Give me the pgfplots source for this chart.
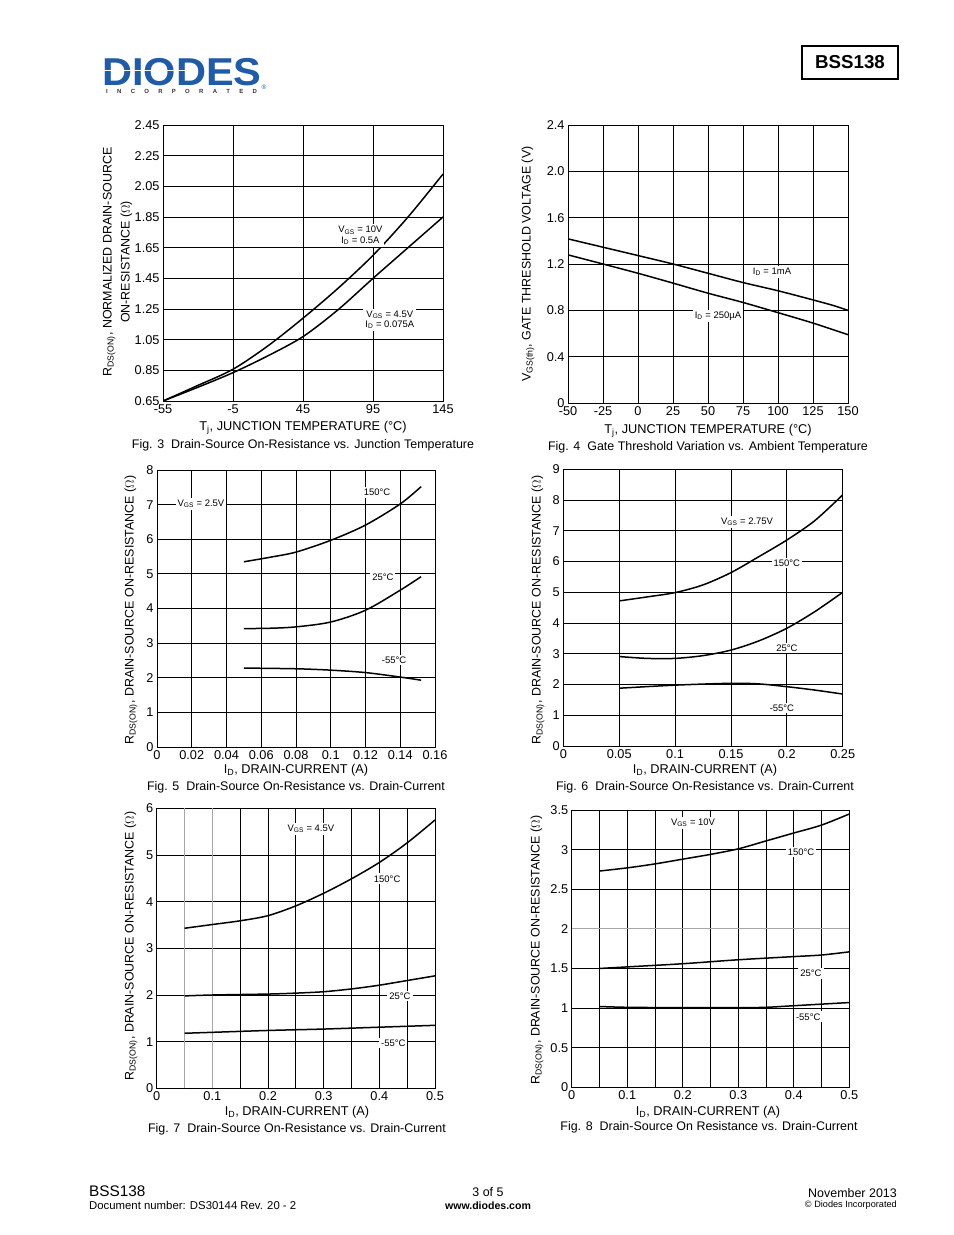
\documentclass[border=0pt]{standalone}
\usepackage{pgfplots}
\pgfplotsset{compat=1.18}
\usepackage{fontspec}
\setmainfont{Liberation Sans}
\definecolor{diodesblue}{HTML}{1F5BA6}
\definecolor{diodesgray}{HTML}{333333}

\newcommand{\fs}[1]{\fontsize{#1}{#1}\selectfont}
\newcommand{\gap}{\hspace{9.3bp}}

\pgfplotsset{
  sheet/.style={
    scale only axis,
    anchor=south west,
    axis line style={line width=0.9bp},
    grid=major,
    major grid style={line width=0.9bp, black},
    major tick length=0pt,
    /pgf/number format/assume math mode=true,
    tick label style={font=\fs{12.8}},
    every axis plot post/.append style={line width=1.5bp, black, smooth, mark=none},
  },
}
\tikzset{tag/.style={font=\fs{9.5}, fill=white, inner sep=2bp, align=center}}

\begin{document}
\begin{tikzpicture}[x=1bp, y=-1bp]
% page frame
\path (0,0) rectangle (954,1235);

% ---------- header ----------
\node[anchor=base west, inner sep=0, text=diodesblue, font=\fs{39}\bfseries]
  at (102,85) {\scalebox{1.07}[1]{DIODES}};
\draw[white, line width=1.3bp] (104,70.5) -- (196,70.5);
\node[anchor=base west, inner sep=0, font=\fs{6}\bfseries, text=diodesgray] at (106,93.6)
  {I\gap N\gap C\gap O\gap R\gap P\gap O\gap R\gap A\gap T\gap E\gap D};
\node[inner sep=0, font=\fs{6.5}, text=diodesblue] at (264,87) {\textregistered};
\draw[line width=1.4bp] (802,46) rectangle (898,79);
\node[font=\fs{18.8}\bfseries] at (850,62.5) {BSS138};

% ---------- Fig. 3 ----------
\begin{axis}[sheet, at={(163bp,-401bp)}, width=280bp, height=276bp,
  xmin=-55, xmax=145, ymin=0.65, ymax=2.45,
  xtick={-55,-5,45,95,145}, xticklabels={-55,-5,45,95,145},
  ytick={0.65,0.85,1.05,1.25,1.45,1.65,1.85,2.05,2.25,2.45},
  yticklabels={0.65,0.85,1.05,1.25,1.45,1.65,1.85,2.05,2.25,2.45}]
\addplot coordinates {(-55,0.65) (-30,0.752) (-5,0.857) (20,1.01) (45,1.19) (70,1.385) (95,1.60) (120,1.85) (145,2.13)};
\addplot coordinates {(-55,0.65) (-30,0.74) (-5,0.835) (20,0.945) (45,1.07) (70,1.245) (95,1.45) (120,1.65) (145,1.85)};
\node[tag] at (axis cs:86,1.73) {V\textsubscript{GS} = 10V\\[1bp] I\textsubscript{D} = 0.5A};
\node[tag] at (axis cs:107,1.18) {V\textsubscript{GS} = 4.5V\\[1bp] I\textsubscript{D} = 0.075A};
\end{axis}
\node[rotate=90, align=center, font=\fs{12.5}] at (117.5,262)
  {R\textsubscript{DS(ON)}, NORMALIZED DRAIN-SOURCE\\[4bp] ON-RESISTANCE ($\Omega$)};
\node[font=\fs{12.8}] at (303,428) {T\textsubscript{j}, JUNCTION TEMPERATURE (°C)};
\node[font=\fs{12.5}] at (303,445) {Fig. 3\ \ Drain-Source On-Resistance vs. Junction Temperature};

% ---------- Fig. 4 ----------
\begin{axis}[sheet, at={(568bp,-403bp)}, width=280bp, height=278bp,
  xmin=-50, xmax=150, ymin=0, ymax=2.4,
  xtick={-50,-25,0,25,50,75,100,125,150},
  xticklabels={-50,-25,0,25,50,75,100,125,150},
  ytick={0,0.4,0.8,1.2,1.6,2.0,2.4},
  yticklabels={0,0.4,0.8,1.2,1.6,2.0,2.4}]
\addplot coordinates {(-50,1.417) (-25,1.345) (0,1.273) (25,1.20) (50,1.12) (75,1.04) (100,0.969) (125,0.89) (140,0.84) (150,0.80)};
\addplot coordinates {(-50,1.279) (-25,1.20) (0,1.12) (25,1.035) (50,0.948) (75,0.868) (100,0.78) (125,0.69) (150,0.59)};
\node[tag] at (axis cs:95.7,1.131) {I\textsubscript{D} = 1mA};
\node[tag] at (axis cs:57.1,0.751) {I\textsubscript{D} = 250µA};
\end{axis}
\node[rotate=90, font=\fs{12.5}] at (528,264) {V\textsubscript{GS(th)}, GATE THRESHOLD VOLTAGE (V)};
\node[font=\fs{12.8}] at (708,431) {T\textsubscript{j}, JUNCTION TEMPERATURE (°C)};
\node[font=\fs{12.5}] at (708,447) {Fig. 4\ \ Gate Threshold Variation vs. Ambient Temperature};

% ---------- Fig. 5 ----------
\begin{axis}[sheet, at={(157bp,-747bp)}, width=278bp, height=277bp,
  xmin=0, xmax=0.16, ymin=0, ymax=8,
  xtick={0,0.02,0.04,0.06,0.08,0.1,0.12,0.14,0.16},
  xticklabels={0,0.02,0.04,0.06,0.08,0.1,0.12,0.14,0.16},
  ytick={0,1,2,3,4,5,6,7,8}, yticklabels={0,1,2,3,4,5,6,7,8}]
\addplot coordinates {(0.05,5.35) (0.065,5.48) (0.08,5.63) (0.1,5.97) (0.12,6.41) (0.14,7.02) (0.152,7.52)};
\addplot coordinates {(0.05,3.42) (0.065,3.43) (0.08,3.47) (0.1,3.61) (0.12,3.95) (0.14,4.53) (0.152,4.92)};
\addplot coordinates {(0.05,2.28) (0.08,2.26) (0.1,2.22) (0.12,2.15) (0.14,2.02) (0.152,1.93)};
\node[tag] at (axis cs:0.0253,7.02) {V\textsubscript{GS} = 2.5V};
\node[tag] at (axis cs:0.1266,7.36) {150°C};
\node[tag] at (axis cs:0.130,4.91) {25°C};
\node[tag] at (axis cs:0.1364,2.51) {-55°C};
\end{axis}
\node[rotate=90, font=\fs{12.5}] at (131,610) {R\textsubscript{DS(ON)}, DRAIN-SOURCE ON-RESISTANCE ($\Omega$)};
\node[font=\fs{12.8}] at (296,770) {I\textsubscript{D}, DRAIN-CURRENT (A)};
\node[font=\fs{12.5}] at (296,787) {Fig. 5\ \ Drain-Source On-Resistance vs. Drain-Current};

% ---------- Fig. 6 ----------
\begin{axis}[sheet, at={(563.3bp,-746bp)}, width=279.4bp, height=276.7bp,
  xmin=0, xmax=0.25, ymin=0, ymax=9,
  xtick={0,0.05,0.1,0.15,0.2,0.25},
  xticklabels={0,0.05,0.1,0.15,0.2,0.25},
  ytick={0,1,2,3,4,5,6,7,8,9}, yticklabels={0,1,2,3,4,5,6,7,8,9}]
\addplot coordinates {(0.05,4.72) (0.075,4.85) (0.1,4.99) (0.125,5.24) (0.15,5.64) (0.175,6.16) (0.2,6.70) (0.225,7.33) (0.25,8.17)};
\addplot coordinates {(0.05,2.91) (0.075,2.85) (0.1,2.85) (0.125,2.94) (0.15,3.12) (0.175,3.42) (0.2,3.83) (0.225,4.37) (0.25,5.0)};
\addplot coordinates {(0.05,1.88) (0.1,1.98) (0.15,2.04) (0.175,2.02) (0.2,1.93) (0.225,1.82) (0.25,1.69)};
\node[tag] at (axis cs:0.1644,7.29) {V\textsubscript{GS} = 2.75V};
\node[tag] at (axis cs:0.200,5.95) {150°C};
\node[tag] at (axis cs:0.200,3.19) {25°C};
\node[tag] at (axis cs:0.1956,1.24) {-55°C};
\end{axis}
\node[rotate=90, font=\fs{12.5}] at (538,610) {R\textsubscript{DS(ON)}, DRAIN-SOURCE ON-RESISTANCE ($\Omega$)};
\node[font=\fs{12.8}] at (705,770) {I\textsubscript{D}, DRAIN-CURRENT (A)};
\node[font=\fs{12.5}] at (705,787) {Fig. 6\ \ Drain-Source On-Resistance vs. Drain-Current};

% ---------- Fig. 7 ----------
\begin{axis}[sheet, at={(156.7bp,-1088.3bp)}, width=278.3bp, height=280bp,
  xmin=0, xmax=0.5, ymin=0, ymax=6,
  xtick={0,0.05,0.1,0.15,0.2,0.25,0.3,0.35,0.4,0.45,0.5},
  xticklabels={0,,0.1,,0.2,,0.3,,0.4,,0.5},
  ytick={0,1,2,3,4,5,6}, yticklabels={0,1,2,3,4,5,6}]
\draw[gray!70, line width=0.9bp] (axis cs:0.05,0) -- (axis cs:0.05,6)
  (axis cs:0.1,0) -- (axis cs:0.1,6);
\addplot coordinates {(0.05,3.43) (0.1,3.51) (0.15,3.59) (0.2,3.70) (0.25,3.91) (0.3,4.18) (0.35,4.49) (0.4,4.84) (0.45,5.26) (0.5,5.75)};
\addplot coordinates {(0.05,1.98) (0.1,2.0) (0.2,2.02) (0.25,2.04) (0.3,2.07) (0.35,2.13) (0.4,2.21) (0.45,2.31) (0.5,2.41)};
\addplot coordinates {(0.05,1.18) (0.1,1.20) (0.2,1.24) (0.3,1.27) (0.4,1.31) (0.5,1.35)};
\node[tag] at (axis cs:0.277,5.56) {V\textsubscript{GS} = 4.5V};
\node[tag] at (axis cs:0.414,4.49) {150°C};
\node[tag] at (axis cs:0.437,1.98) {25°C};
\node[tag] at (axis cs:0.425,0.97) {-55°C};
\end{axis}
\node[rotate=90, font=\fs{12.5}] at (131,946) {R\textsubscript{DS(ON)}, DRAIN-SOURCE ON-RESISTANCE ($\Omega$)};
\node[font=\fs{12.8}] at (297,1112) {I\textsubscript{D}, DRAIN-CURRENT (A)};
\node[font=\fs{12.5}] at (297,1129) {Fig. 7\ \ Drain-Source On-Resistance vs. Drain-Current};

% ---------- Fig. 8 ----------
\begin{axis}[sheet, at={(571.7bp,-1087.3bp)}, width=277.6bp, height=277.3bp,
  xmin=0, xmax=0.5, ymin=0, ymax=3.5,
  xtick={0,0.05,0.1,0.15,0.2,0.25,0.3,0.35,0.4,0.45,0.5},
  xticklabels={0,,0.1,,0.2,,0.3,,0.4,,0.5},
  ytick={0,0.5,1,1.5,2,2.5,3,3.5}, yticklabels={0,0.5,1,1.5,2,2.5,3,3.5}]
\draw[gray!70, line width=0.9bp] (axis cs:0,2) -- (axis cs:0.5,2);
\addplot coordinates {(0.05,2.73) (0.1,2.77) (0.15,2.82) (0.2,2.88) (0.25,2.94) (0.3,3.01) (0.35,3.11) (0.4,3.21) (0.45,3.31) (0.5,3.45)};
\addplot coordinates {(0.05,1.50) (0.1,1.52) (0.2,1.56) (0.3,1.61) (0.4,1.65) (0.45,1.67) (0.5,1.71)};
\addplot coordinates {(0.05,1.02) (0.1,1.01) (0.2,1.005) (0.3,1.005) (0.35,1.01) (0.4,1.03) (0.45,1.05) (0.5,1.07)};
\node[tag] at (axis cs:0.2185,3.34) {V\textsubscript{GS} = 10V};
\node[tag] at (axis cs:0.413,2.97) {150°C};
\node[tag] at (axis cs:0.431,1.44) {25°C};
\node[tag] at (axis cs:0.426,0.89) {-55°C};
\end{axis}
\node[rotate=90, font=\fs{12.5}] at (537,950) {R\textsubscript{DS(ON)}, DRAIN-SOURCE ON-RESISTANCE ($\Omega$)};
\node[font=\fs{12.8}] at (708,1112) {I\textsubscript{D}, DRAIN-CURRENT (A)};
\node[font=\fs{12.5}] at (709,1127) {Fig. 8\ \ Drain-Source On Resistance vs. Drain-Current};

% ---------- footer ----------
\node[anchor=base west, inner sep=0, font=\fs{15.4}] at (89,1196.3) {BSS138};
\node[anchor=base west, inner sep=0, font=\fs{11.4}] at (89,1209) {Document number: DS30144 Rev. 20 - 2};
\node[anchor=base, inner sep=0, font=\fs{12.5}] at (488,1196.7) {3 of 5};
\node[anchor=base, inner sep=0, font=\fs{10.6}\bfseries] at (488,1209) {www.diodes.com};
\node[anchor=base east, inner sep=0, font=\fs{12.5}] at (897,1197) {November 2013};
\node[anchor=base east, inner sep=0, font=\fs{9.2}] at (897,1207.3) {© Diodes Incorporated};
\end{tikzpicture}
\end{document}
